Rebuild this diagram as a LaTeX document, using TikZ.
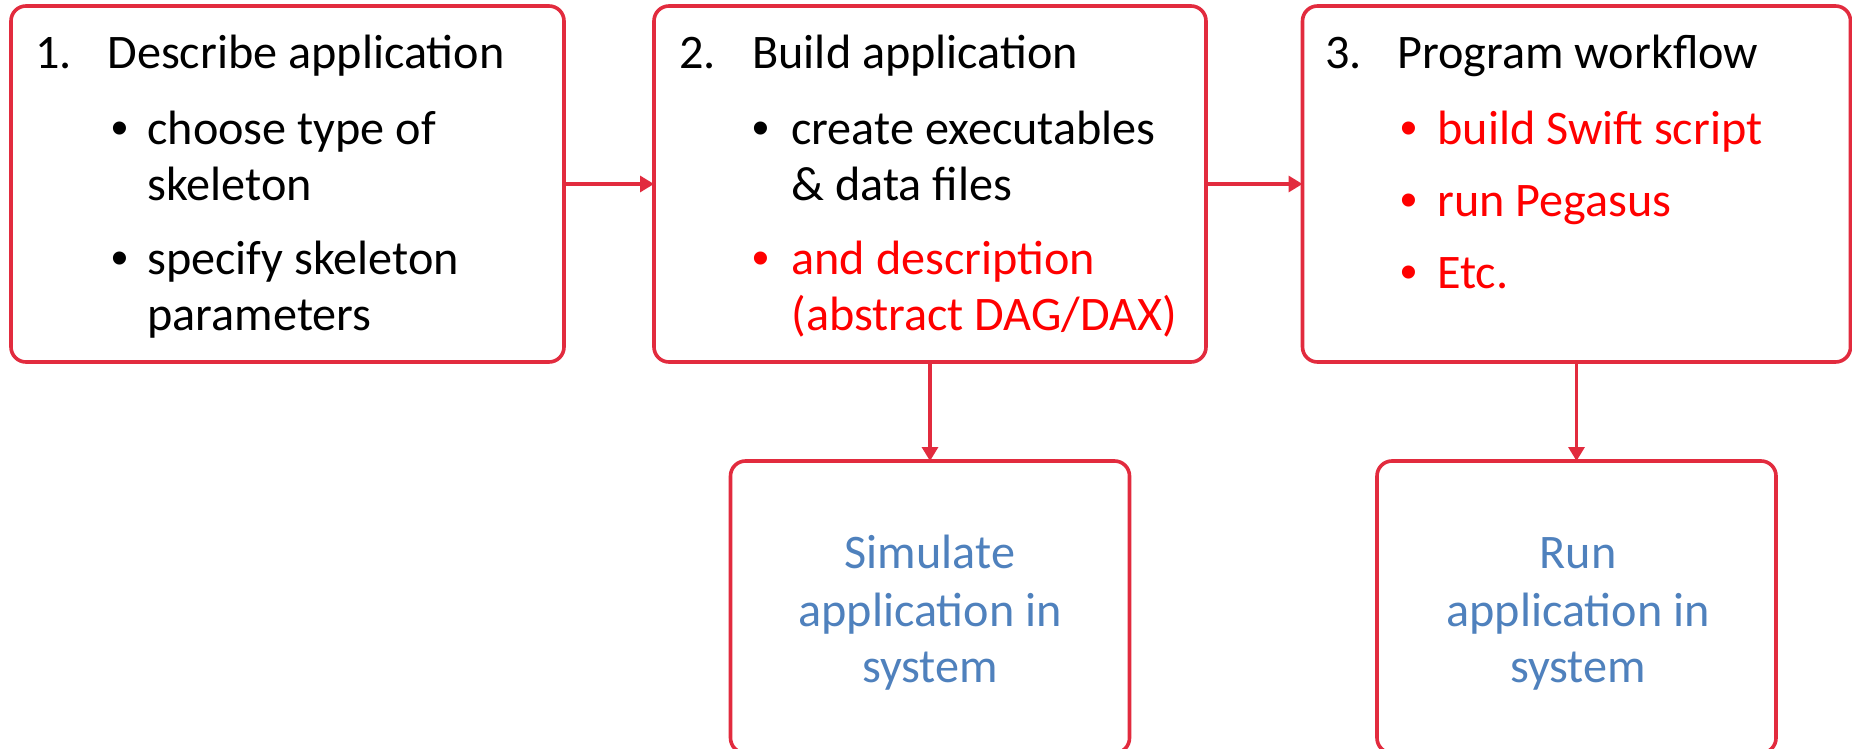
\documentclass[tikz,border=0pt]{standalone}
\usepackage{fontspec}
\setmainfont{Carlito}
\newfontfamily\bulletfont{Liberation Sans}
\usetikzlibrary{arrows.meta}
\definecolor{boxred}{HTML}{E22B3E}
\definecolor{hired}{HTML}{FF0000}
\definecolor{sysblue}{HTML}{4F81BD}
\begin{document}
\begin{tikzpicture}[x=0.5pt,y=-0.5pt,
  box/.style={draw=boxred, line width=1.8pt, rounded corners=7.5pt, inner sep=0pt, outer sep=0pt},
  link/.style={draw=boxred, line width=1.6pt, -{Triangle[length=7pt,width=8pt]}},
  txt/.style={anchor=base west, inner sep=0pt, font=\fontsize{24.1}{28.5}\selectfont},
  dot/.style={anchor=base, inner sep=0pt, font=\bulletfont\fontsize{24.1}{28.5}\selectfont},
  sys/.style={anchor=base, inner sep=0pt, text=sysblue, font=\fontsize{24.1}{28.5}\selectfont},
  em/.style={text=hired}]

\useasboundingbox (0,0) rectangle (1852,749);
\fill[white] (0,0) rectangle (1852,749);

% step boxes
\node[box, minimum width=276.5pt, minimum height=178pt] (s1) at (287.5,184) {};
\node[box, minimum width=276pt,   minimum height=178pt] (s2) at (930,184) {};
\node[box, minimum width=274pt,   minimum height=178pt] (s3) at (1576.5,184) {};
% result boxes
\node[box, minimum width=199.5pt, minimum height=146pt] (r1) at (930,607) {};
\node[box, minimum width=199.5pt, minimum height=146pt] (r2) at (1576.5,607) {};

% connectors
\draw[link] (s1.east) -- (s2.west);
\draw[link] (s2.east) -- (s3.west);
\draw[link] (s2.south) -- (r1.north);
\draw[link] (s3.south) -- (r2.north);

% step 1
\node[txt] (n1) at (35,69) {1.};
\node[txt] (h1) at (107,69) {Describe application};
\node[dot] (d11) at (120,144) {•};
\node[txt] (l11) at (147,144) {choose type of};
\node[txt] (l12) at (147,200) {skeleton};
\node[dot] (d12) at (120,274) {•};
\node[txt] (l13) at (147,274) {specify skeleton};
\node[txt] (l14) at (147,330) {parameters};

% step 2
\node[txt] (n2) at (679,69) {2.};
\node[txt] (h2) at (752,69) {Build application};
\node[dot] (d21) at (761,144) {•};
\node[txt] (l21) at (791,144) {create executables};
\node[txt] (l22) at (791,200) {\& data files};
\node[dot, em] (d22) at (761,274) {•};
\node[txt, em] (l23) at (791,274) {and description};
\node[txt, em] (l24) at (791,330) {(abstract DAG/DAX)};

% step 3
\node[txt] (n3) at (1325,69) {3.};
\node[txt] (h3) at (1397,69) {Program workflow};
\node[dot, em] (d31) at (1409,144) {•};
\node[txt, em] (l31) at (1437,144) {build Swift script};
\node[dot, em] (d32) at (1409,216) {•};
\node[txt, em] (l32) at (1437,216) {run Pegasus};
\node[dot, em] (d33) at (1409,288) {•};
\node[txt, em] (l33) at (1437,288) {Etc.};

% results
\node[sys] (a1) at (930,568) {Simulate};
\node[sys] (a2) at (930,626) {application in};
\node[sys] (a3) at (930,682) {system};
\node[sys] (b1) at (1578,568) {Run};
\node[sys] (b2) at (1578,626) {application in};
\node[sys] (b3) at (1578,682) {system};
\end{tikzpicture}
\end{document}
